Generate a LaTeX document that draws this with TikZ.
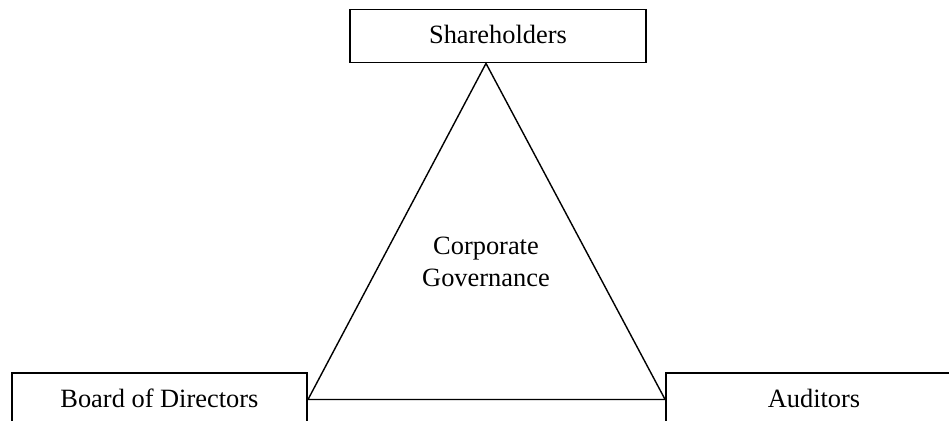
\documentclass[tikz,border=0pt]{standalone}
\usepackage{fontspec}
\setmainfont{Liberation Serif}
\begin{document}
\begin{tikzpicture}[x=0.5pt,y=-0.5pt,
  txt/.style={font=\fontsize{13.2}{16}\selectfont},
  box/.style={txt,draw,line width=0.9pt,minimum width=148pt,minimum height=26.5pt,inner sep=0pt,text height=0.8em,text depth=0pt},
  edge/.style={line width=0.7pt,line join=miter}]
\clip (0,0) rectangle (949,421);
\fill[white] (0,0) rectangle (949,421);
\node[box] (sh) at (498,36) {Shareholders};
\node[box,minimum width=147.7pt] (bd) at (159.4,399.5) {Board of Directors};
\node[box] (au) at (814,399.5) {Auditors};
\node[txt,align=center,inner sep=0pt] (cg) at (486,262) {Corporate\\Governance};
\coordinate (apex) at ([xshift=-6pt]sh.south);
\draw[edge] (apex) -- (bd.east) -- (au.west) -- cycle;
\end{tikzpicture}
\end{document}
